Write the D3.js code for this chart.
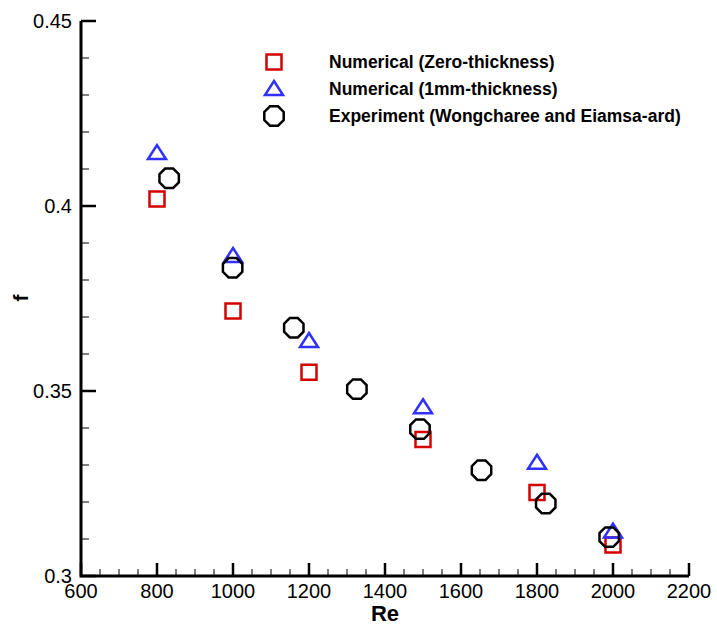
<!DOCTYPE html>
<html>
<head>
<meta charset="utf-8">
<script src="https://cdn.jsdelivr.net/npm/d3@7"></script>
<style>
  body { margin: 0; background: #fff; }
  svg { font-family: "Liberation Sans", Arial, sans-serif; }
</style>
</head>
<body>
<svg id="chart" width="717" height="626"></svg>
<script>
// zero-thickness numerical
var reZero = [800, 1000, 1200, 1500, 1800, 2000];
var fZero = [0.4019, 0.3716, 0.3551, 0.3369, 0.3226, 0.3084];
// 1mm thickness numerical
var reThick = [800, 1000, 1200, 1500, 1800, 2000];
var fThick = [0.4143, 0.3865, 0.3635, 0.3456, 0.3306, 0.3120];
// experiment
var reExp = [832, 999, 1160, 1326, 1492, 1654, 1823, 1990];
var fExp = [0.4075, 0.3833, 0.3671, 0.3505, 0.3397, 0.3286, 0.3196, 0.3105];

var xTicks = [600, 800, 1000, 1200, 1400, 1600, 1800, 2000, 2200];
var yTicks = [0.3, 0.35, 0.4, 0.45];
var legendLabels = ["Numerical (Zero-thickness)", "Numerical (1mm-thickness)", "Experiment (Wongcharee and Eiamsa-ard)"];

var svg = d3.select("#chart");

var x = d3.scaleLinear().domain([600, 2200]).range([81, 689]);
var y = d3.scaleLinear().domain([0.3, 0.45]).range([576, 21]);

// minor ticks
var xMinor = d3.range(600, 2201, 50);
var yMinor = d3.range(0, 16).map(function(i) { return 0.3 + i * 0.01; });

svg.append("g").selectAll("line")
  .data(xMinor)
  .enter().append("line")
  .attr("x1", function(d) { return x(d); })
  .attr("x2", function(d) { return x(d); })
  .attr("y1", 576).attr("y2", function(d) { return xTicks.indexOf(d) >= 0 ? 563 : 569; })
  .attr("stroke", "#000")
  .attr("stroke-width", function(d) { return xTicks.indexOf(d) >= 0 ? 2.5 : 1; });

svg.append("g").selectAll("line")
  .data(yMinor)
  .enter().append("line")
  .attr("y1", function(d) { return y(d); })
  .attr("y2", function(d) { return y(d); })
  .attr("x1", 81).attr("x2", function(d, i) { return i % 5 == 0 ? 96 : 89; })
  .attr("stroke", "#000")
  .attr("stroke-width", function(d, i) { return i % 5 == 0 ? 2.5 : 1; });

// axis lines
svg.append("path")
  .attr("d", "M81,21V576H689")
  .attr("fill", "none")
  .attr("stroke", "#000")
  .attr("stroke-width", 3);

// tick labels
svg.append("g").selectAll("text")
  .data(xTicks)
  .enter().append("text")
  .attr("x", function(d) { return x(d); })
  .attr("y", 598)
  .attr("text-anchor", "middle")
  .attr("font-size", 20)
  .text(function(d) { return d; });

svg.append("g").selectAll("text")
  .data(yTicks)
  .enter().append("text")
  .attr("x", 72)
  .attr("y", function(d) { return y(d) + 7; })
  .attr("text-anchor", "end")
  .attr("font-size", 20)
  .text(function(d) { return d; });

// axis titles
svg.append("text")
  .attr("x", 385).attr("y", 621)
  .attr("text-anchor", "middle")
  .attr("font-size", 22).attr("font-weight", "bold")
  .text("Re");

svg.append("text")
  .attr("transform", "translate(28,298) rotate(-90)")
  .attr("text-anchor", "middle")
  .attr("font-size", 21).attr("font-weight", "bold")
  .text("f");

// marker shapes
function octagon(r) {
  var pts = d3.range(8).map(function(i) {
    var a = Math.PI / 8 + i * Math.PI / 4;
    return [r * Math.cos(a), r * Math.sin(a)];
  });
  return "M" + pts.join("L") + "Z";
}
var squarePath = "M-7.5,-7.5H7.5V7.5H-7.5Z";
var trianglePath = "M0,-8L9,6H-9Z";
var octPath = octagon(10.5);

function drawSeries(xs, ys, path, color) {
  svg.append("g").selectAll("path")
    .data(xs)
    .enter().append("path")
    .attr("d", path)
    .attr("transform", function(d, i) { return "translate(" + x(d) + "," + y(ys[i]) + ")"; })
    .attr("fill", "none")
    .attr("stroke", color)
    .attr("stroke-width", 2.5);
}

drawSeries(reZero, fZero, squarePath, "#d40000");
drawSeries(reThick, fThick, trianglePath, "#3030ff");
drawSeries(reExp, fExp, octPath, "#000");

// legend
var legendPaths = [squarePath, trianglePath, octPath];
var legendColors = ["#d40000", "#3030ff", "#000"];
var legend = svg.append("g").selectAll("g")
  .data(legendLabels)
  .enter().append("g")
  .attr("transform", function(d, i) { return "translate(274," + (62 + i * 27) + ")"; });
legend.append("path")
  .attr("d", function(d, i) { return legendPaths[i]; })
  .attr("fill", "none")
  .attr("stroke", function(d, i) { return legendColors[i]; })
  .attr("stroke-width", 2.5);
legend.append("text")
  .attr("x", 55).attr("y", 6)
  .attr("font-size", 17.5).attr("font-weight", "bold")
  .text(function(d) { return d; });
</script>
</body>
</html>
